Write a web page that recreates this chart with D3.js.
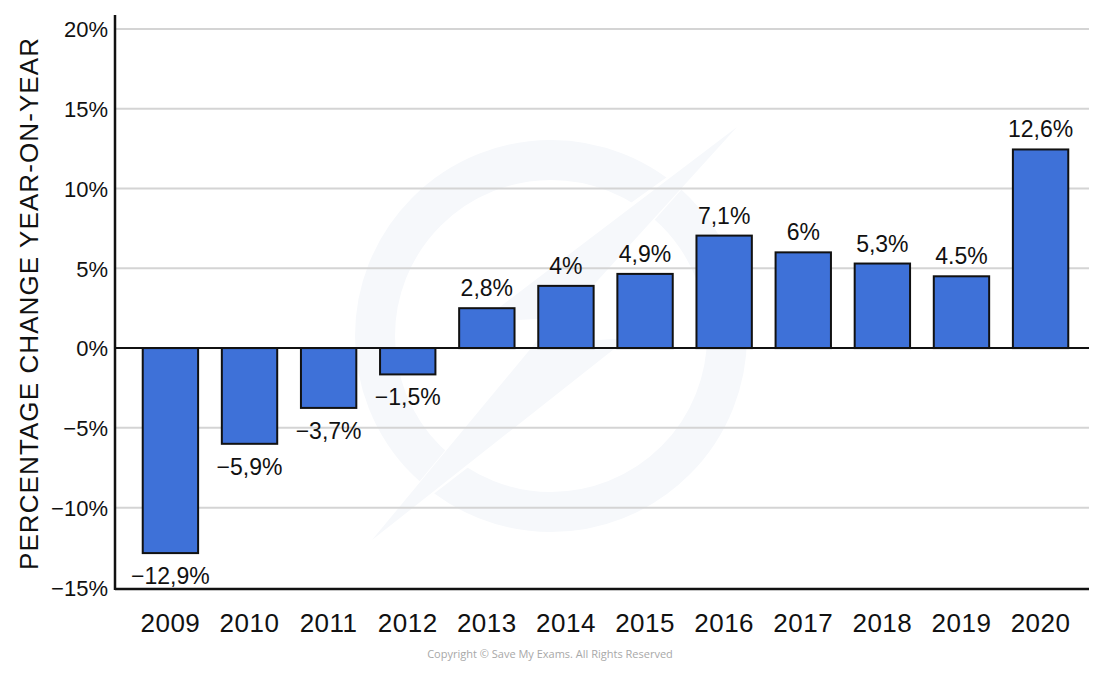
<!DOCTYPE html>
<html>
<head>
<meta charset="utf-8">
<script src="https://cdn.jsdelivr.net/npm/d3@7"></script>
<style>
  body { margin: 0; background: #fff; }
  text { font-family: "Liberation Sans", Arial, sans-serif; fill: #111; }
</style>
</head>
<body>
<div id="chart"></div>
<script>
// data
const years = ["2009", "2010", "2011", "2012", "2013", "2014", "2015", "2016", "2017", "2018", "2019", "2020"];
const changes = [-12.85, -6.0, -3.75, -1.65, 2.5, 3.9, 4.65, 7.05, 6.0, 5.3, 4.5, 12.45];
const valueLabels = ["−12,9%", "−5,9%", "−3,7%", "−1,5%", "2,8%", "4%", "4,9%", "7,1%", "6%", "5,3%", "4.5%", "12,6%"];
const yTicks = [-15, -10, -5, 0, 5, 10, 15, 20];

const width = 1100, height = 673;
const margin = { top: 29, right: 11, bottom: 85, left: 115 };

const svg = d3.select("#chart")
  .append("svg")
  .attr("width", width)
  .attr("height", height);

// faint watermark behind the chart
const wmColor = "#f6f8fb";
const wm = svg.append("g");
wm.append("circle")
  .attr("cx", 551).attr("cy", 336).attr("r", 176)
  .attr("fill", "none").attr("stroke", wmColor).attr("stroke-width", 40);
wm.append("polygon")
  .attr("points", "737,127 470,318 560,312 366,546 640,335 548,340")
  .attr("fill", "#ffffff");
wm.append("polygon")
  .attr("points", "737,127 480,322 556,318 372,540 628,338 540,344")
  .attr("fill", wmColor);

let x = d3.scaleBand()
  .domain(years)
  .range([119, 1092])
  .padding(0.3);

let y = d3.scaleLinear()
  .domain([-15, 20])
  .range([height - margin.bottom - 0.6, margin.top]);

const x0 = margin.left, x1 = width - margin.right;

// gridlines
svg.append("g")
  .selectAll("line")
  .data(yTicks.filter(d => d !== 0 && d !== -15))
  .join("line")
  .attr("x1", x0).attr("x2", x1)
  .attr("y1", d => y(d)).attr("y2", d => y(d))
  .attr("stroke", "#d4d4d4")
  .attr("stroke-width", 2);

// y tick labels
svg.append("g")
  .selectAll("text")
  .data(yTicks)
  .join("text")
  .attr("x", 108)
  .attr("y", d => y(d))
  .attr("dy", "0.38em")
  .attr("text-anchor", "end")
  .attr("font-size", 22)
  .text(d => (d < 0 ? "−" + Math.abs(d) : d) + "%");

// bars
svg.append("g")
  .selectAll("rect")
  .data(changes)
  .join("rect")
  .attr("x", (d, i) => x(years[i]))
  .attr("width", x.bandwidth())
  .attr("y", d => y(Math.max(0, d)))
  .attr("height", d => Math.abs(y(d) - y(0)))
  .attr("fill", "#3e71d8")
  .attr("stroke", "#111")
  .attr("stroke-width", 2);

// value labels
svg.append("g")
  .selectAll("text")
  .data(changes)
  .join("text")
  .attr("x", (d, i) => x(years[i]) + x.bandwidth() / 2)
  .attr("y", d => d >= 0 ? y(d) - 12 : y(d) + 31)
  .attr("text-anchor", "middle")
  .attr("font-size", 23)
  .text((d, i) => valueLabels[i]);

// axes lines
svg.append("line") // zero line
  .attr("x1", x0).attr("x2", x1)
  .attr("y1", y(0)).attr("y2", y(0))
  .attr("stroke", "#111").attr("stroke-width", 2);
svg.append("line") // bottom
  .attr("x1", x0).attr("x2", x1)
  .attr("y1", 589).attr("y2", 589)
  .attr("stroke", "#111").attr("stroke-width", 2.5);
svg.append("line") // left
  .attr("x1", x0).attr("x2", x0)
  .attr("y1", 15).attr("y2", 590)
  .attr("stroke", "#111").attr("stroke-width", 2.5);

// year labels
svg.append("g")
  .selectAll("text")
  .data(years)
  .join("text")
  .attr("x", d => x(d) + x.bandwidth() / 2)
  .attr("y", 632)
  .attr("text-anchor", "middle")
  .attr("font-size", 26)
  .attr("letter-spacing", 0.5)
  .text(d => d);

// y axis title
svg.append("text")
  .attr("transform", "translate(38,304) rotate(-90)")
  .attr("text-anchor", "middle")
  .attr("font-size", 26)
  .attr("textLength", 532)
  .attr("lengthAdjust", "spacing")
  .text("PERCENTAGE CHANGE YEAR-ON-YEAR");

// copyright
svg.append("text")
  .attr("x", 550)
  .attr("y", 658)
  .attr("text-anchor", "middle")
  .attr("font-size", 11)
  .style("font-family", "'Open Sans', sans-serif")
  .style("fill", "#a8a8a8")
  .text("Copyright © Save My Exams. All Rights Reserved");
</script>
</body>
</html>
